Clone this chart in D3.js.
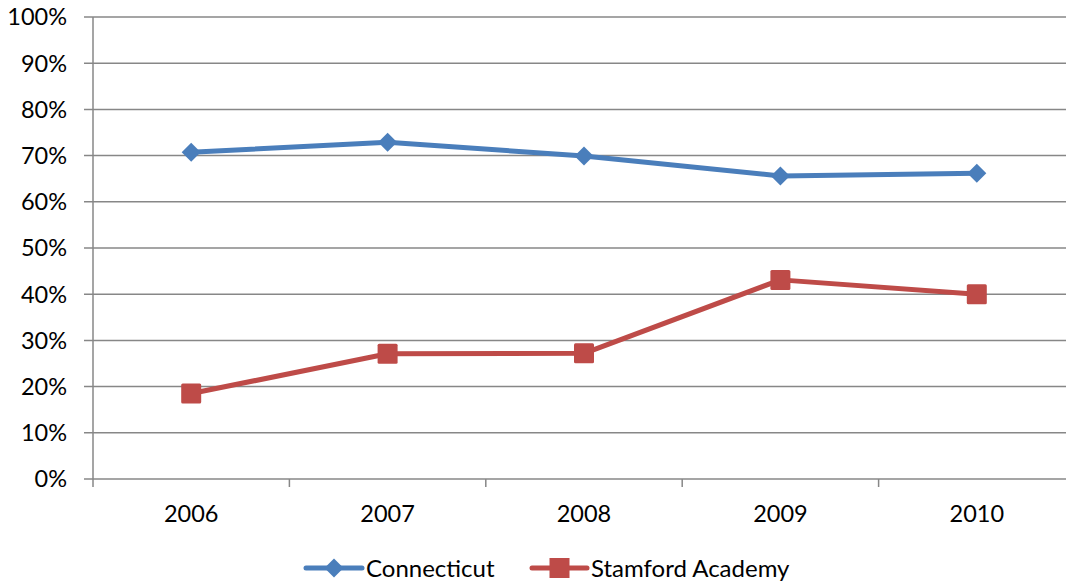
<!DOCTYPE html>
<html><head><meta charset="utf-8">
<script src="https://cdn.jsdelivr.net/npm/d3@7"></script>
<style>html,body{margin:0;padding:0;background:#fff;overflow:hidden}</style>
</head><body><svg id="c" width="1066" height="583"></svg>
<script>
const years = ["2006","2007","2008","2009","2010"];
const connecticut = [70.7, 72.9, 69.9, 65.6, 66.2];
const stamford = [18.5, 27.1, 27.2, 43.1, 40.0];
const yTicks = [0,10,20,30,40,50,60,70,80,90,100];
const seriesNames = ["Connecticut","Stamford Academy"];
const colors = ["#4a7ebb","#be4b48"];

const svg = d3.select("#c");
const font = "Lato, 'Open Sans', sans-serif";
const L = 93, R = 1075, T = 17, B = 479;
const x = d3.scaleBand().domain(years).range([L, R]);
const y = d3.scaleLinear().domain([0,100]).range([B, T]);
const grid = "#878787";

svg.append("g").selectAll("line").data(yTicks).join("line")
  .attr("x1", L-9).attr("x2", R).attr("y1", d=>y(d)).attr("y2", d=>y(d))
  .attr("stroke", grid).attr("stroke-width", 1.5);
svg.append("line").attr("x1", L).attr("x2", L).attr("y1", T).attr("y2", B+8)
  .attr("stroke", grid).attr("stroke-width", 1.5);
svg.append("g").selectAll("line").data(years.slice(1)).join("line")
  .attr("x1", d=>x(d)).attr("x2", d=>x(d)).attr("y1", B).attr("y2", B+8)
  .attr("stroke", grid).attr("stroke-width", 1.5);
svg.append("g").selectAll("text").data(yTicks).join("text")
  .attr("x", 67).attr("y", d=>y(d)).attr("dy", "0.36em")
  .attr("text-anchor","end").attr("font-family", font).attr("font-size", 23.5)
  .attr("fill","#000").text(d=>d+"%");
svg.append("g").selectAll("text").data(years).join("text")
  .attr("x", d=>x(d)+x.bandwidth()/2).attr("y", 514).attr("dy","0.36em")
  .attr("text-anchor","middle").attr("font-family", font).attr("font-size", 23.5)
  .attr("fill","#000").text(d=>d);

const cx = d=>x(d)+x.bandwidth()/2;
const line = d3.line().x((d,i)=>cx(years[i])).y(d=>y(d));
const diamond = d3.symbol().type(d3.symbolDiamond2).size(230);

svg.append("path").datum(connecticut).attr("d", line).attr("fill","none")
  .attr("stroke", colors[0]).attr("stroke-width", 5).attr("stroke-linejoin","round");
svg.append("g").selectAll("path").data(connecticut).join("path")
  .attr("d", diamond).attr("transform",(d,i)=>`translate(${cx(years[i])},${y(d)})`)
  .attr("fill", colors[0]);

svg.append("path").datum(stamford).attr("d", line).attr("fill","none")
  .attr("stroke", colors[1]).attr("stroke-width", 5).attr("stroke-linejoin","round");
svg.append("g").selectAll("rect").data(stamford).join("rect")
  .attr("x",(d,i)=>cx(years[i])-10).attr("y",d=>y(d)-10).attr("width",20).attr("height",20)
  .attr("rx",1.5).attr("fill", colors[1]);

const ly = 568;
const leg = [{x1:306,x2:362,tx:366},{x1:532,x2:587,tx:591}];
leg.forEach((g,i)=>{
  svg.append("line").attr("x1",g.x1).attr("x2",g.x2).attr("y1",ly).attr("y2",ly)
    .attr("stroke",colors[i]).attr("stroke-width",5).attr("stroke-linecap","round");
  const m = (g.x1+g.x2)/2;
  if(i===0){
    svg.append("path").attr("d", diamond).attr("transform",`translate(${m},${ly})`).attr("fill",colors[0]);
  } else {
    svg.append("rect").attr("x",m-10).attr("y",ly-10).attr("width",20).attr("height",20).attr("fill",colors[1]);
  }
  svg.append("text").attr("x",g.tx).attr("y",ly).attr("dy","0.36em")
    .attr("font-family",font).attr("font-size",24).attr("fill","#000").text(seriesNames[i]);
});
</script></body></html>
